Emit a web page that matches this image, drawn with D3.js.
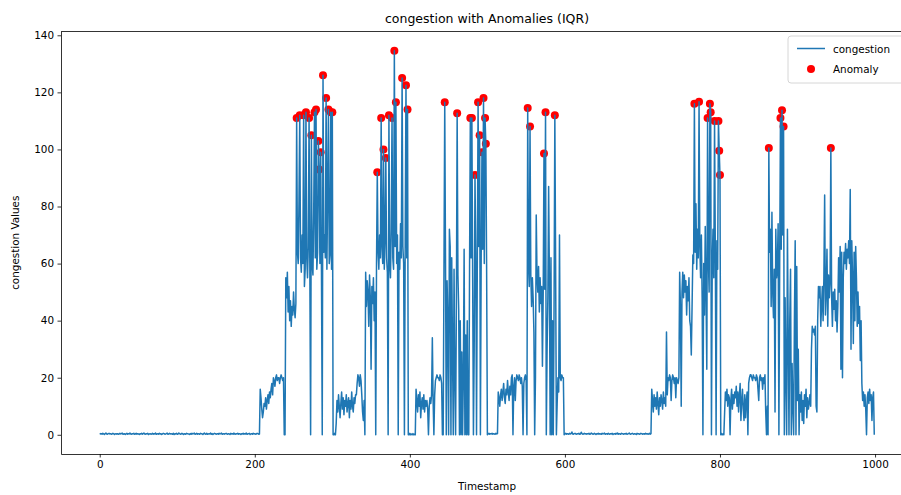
<!DOCTYPE html>
<html lang="en">
<head>
<meta charset="UTF-8">
<title>congestion with Anomalies (IQR)</title>
<style>
  body { margin: 0; background: #fff; }
  svg { display: block; font-family: "DejaVu Sans", sans-serif; }
</style>
</head>
<body>
<svg id="chart" width="901" height="495"></svg>
<script src="https://cdn.jsdelivr.net/npm/d3@7"></script>
<script>
// congestion values, one per timestamp, in order (0..999)
var quiet1 = [ // 0-206
  0.5,0.3,0.4,0.2,0.5,0.3,0.1,0.4,0.6,0.3,0.2,0.4,0.5,0.3,0.4,0.2,0.3,0.5,0.4,0.1,0.3,0.4,0.2,
  0.4,0.2,0.3,0.5,0.3,0.4,0.6,0.2,0.3,0.4,0.1,0.3,0.5,0.2,0.4,0.3,0.6,0.3,0.2,0.4,0.3,0.5,0.2,
  0.3,0.5,0.2,0.4,0.3,0.1,0.4,0.3,0.5,0.2,0.4,0.6,0.3,0.2,0.4,0.3,0.5,0.1,0.3,0.4,0.2,0.3,0.5,
  0.2,0.4,0.3,0.6,0.2,0.3,0.4,0.2,0.5,0.3,0.4,0.1,0.3,0.5,0.4,0.2,0.3,0.4,0.6,0.2,0.3,0.5,0.3,
  0.4,0.3,0.2,0.5,0.1,0.4,0.3,0.5,0.2,0.3,0.6,0.4,0.2,0.3,0.5,0.3,0.1,0.4,0.3,0.2,0.5,0.4,0.3,
  0.3,0.1,0.4,0.2,0.5,0.3,0.4,0.6,0.2,0.3,0.5,0.2,0.4,0.3,0.2,0.5,0.4,0.3,0.1,0.4,0.6,0.3,0.2,
  0.5,0.2,0.3,0.4,0.3,0.6,0.2,0.4,0.1,0.3,0.5,0.4,0.2,0.3,0.4,0.2,0.5,0.3,0.4,0.6,0.2,0.3,0.4,
  0.2,0.4,0.5,0.3,0.2,0.4,0.3,0.1,0.5,0.3,0.4,0.2,0.6,0.3,0.2,0.4,0.3,0.5,0.2,0.4,0.3,0.1,0.4,
  0.3,0.5,0.2,0.4,0.3,0.6,0.2,0.3,0.4,0.5,0.1,0.3,0.4,0.2,0.5,0.3,0.4,0.2,0.3,0.5,0.4,0.2,0.3
];
var burst1 = [ // 207-301
  16,
  13,9,6,8,11,10,13,9,12,14,11,15,13,16,18,14,
  20,19,17,20,21,19,20,20,18,20,21,20,19,20,
  0,0,
  55,48,57,43,52,40,47,38,45,42,50,44,41,46,
  111,64,60,82,112,62,57,70,60,112,52,58,113,62,55,66,111,58,0,105,60,56,78,113,
  62,114,58,64,103,93,60,99,57,0,126,64,70,62,118,58,86,114,60,63,113,58,113,0
];
var low1 = [ // 302-342
  0,0.5,0,4,
  12,8,14,10,6,11,15,9,13,7,12,10,14,8,11,13,6,12,9,15,10,8,13,11,14,
  14,18,21,20,17,21,19,14,8,5,12,0
];
var burst2 = [ // 343-398
  57,45,54,50,38,56,48,23,52,46,55,40,50,0,
  60,92,64,58,70,62,111,66,60,100,58,68,97,62,57,0,112,60,55,72,111,
  62,58,134.6,66,116.5,60,70,0,64,58,74,62,125,66,60,0,68,122.5,62,114,0
];
var low2 = [ // 399-443
  0,0.5,0,0.3,0,0.4,0,0.2,0,
  16,
  12,8,14,10,15,6,11,13,9,14,8,12,10,
  12,9,0,10,13,11,14,34,12,0,14,19,20,21,20,20,19,21,20,18,0,0
];
var burst3 = [ // 444-500
  58,116.5,60,
  0,54,40,0,72,66,0,62,30,0,58,20,0,
  45,112.7,56,44,0,40,0,29,0,20,65,0,35,0,40,0,
  0,58,111,62,111,55,0,30,91,64,0,60,116.5,66,105,0,62,99,65,118,60,111,102,59,0
];
var low3 = [ // 501-551
  0.3,0.5,0.2,0.4,0.3,0.5,0.2,0.4,0.3,0.2,0.5,0.3,0.4,
  15,
  13,10,14,16,12,15,18,13,11,16,14,19,15,12,17,14,20,21,
  0,17,20,12,19,21,20,19,21,20,18,20,17,0,18,20,21,19,0
];
var burst4 = [ // 552-599
  114.5,60,52,108,56,45,55,48,36,0,
  20,77,56,50,59,43,55,46,52,24,50,98.6,51,113,0,30,48,87,55,0,62,0,40,0,45,112,60,
  0,11,20,15,70,20,19,21,20,20,0
];
var quiet2 = [ // 600-711
  0.3,0.5,0.2,0.4,0.3,0.2,0.5,0.3,0.4,1.0,0.3,0.2,0.4,0.5,0.3,0.2,0.4,0.3,0.5,0.2,0.3,0.9,0.4,0.2,0.3,0.5,0.3,0.4,
  0.2,0.4,0.3,0.5,0.2,0.3,0.6,0.4,0.2,0.3,0.5,0.3,0.1,0.4,0.3,0.5,0.2,0.4,0.3,0.2,0.5,0.3,0.4,0.6,0.2,0.3,0.4,0.2,
  0.5,0.3,0.2,0.4,0.3,0.5,0.1,0.3,0.4,0.2,0.5,0.3,0.6,0.2,0.4,0.3,0.2,0.5,0.4,0.3,0.2,0.4,0.3,0.5,0.2,0.3,0.4,0.6,
  0.3,0.2,0.4,0.5,0.3,0.2,0.4,0.3,0.1,0.5,0.3,0.4,0.2,0.3,0.5,0.4,0.2,0.3,0.4,0.2,0.5,0.3,0.4,0.2,0.3,0.5,0.2,0.4
];
var burst5 = [ // 712-806
  16,
  12,8,14,10,13,9,15,11,7,13,10,14,12,9,15,11,13,10,
  36,14,20,19,21,20,12,19,21,20,18,20,13,20,19,18,20,
  57,45,10,50,57,48,56,50,54,42,52,47,55,40,38,28,45,63,
  60,116,64,81,58,72,62,116.7,66,55,70,48,0,60,42,73,50,23,111,62,
  50,116,113,0,60,72,55,110,64,0,68,58,110,99.5,91,
  0,0.5,0,0.3,0,8
];
var low5 = [ // 807-862
  15,12,16,10,14,13,
  0,
  12,16,9,14,11,15,
  13,17,10,15,8,14,18,5,12,16,9,5,14,6,12,15,0,
  18,20,21,21,20,19,21,20,20,19,21,20,16,12,20,21,19,20,16,20,18,21,8,0,10,0
];
var burst6 = [ // 863-999
  100.5,64,72,45,78,50,41,58,8,72,55,58,74,0,60,111,65,113.7,70,108,
  0,48,20,0,72,35,0,40,58,0,25,10,0,40,68,0,59,12,30,0,14,
  8,15,5,12,4,14,10,16,6,13,9,11,14,10,
  30,38,36,37,35,38,10,8,
  40,52,48,52,38,45,52,40,55,84,42,50,65,38,56,48,53,
  100.5,
  48,38,50,44,51,40,47,36,45,62,50,66,23,64,20,
  55,64,60,67,58,65,62,68,60,86,30,68,55,32,64,40,66,55,38,50,39,45,26,40,18,
  12,15,10,14,9,0,13,15,11,16,12,14,5,13,15,0
];

var congestion = [].concat(quiet1, burst1, low1, burst2, low2, burst3, low3, burst4, quiet2, burst5, low5, burst6);
var xTicks = [0, 200, 400, 600, 800, 1000];
var yTicks = [0, 20, 40, 60, 80, 100, 120, 140];
var upperFence = 89; // IQR upper bound: points above it are the anomalies

var data = congestion.map(function (v, i) { return { t: i, v: v }; });
var anomalies = data.filter(function (d) { return d.v > upperFence; });

var svg = d3.select("#chart");
var plotLeft = 61, plotRight = 913, plotTop = 31.5, plotBottom = 454;

// matplotlib style 5% margins around the data
var tMax = d3.max(data, function (d) { return d.t; });
var vMax = d3.max(data, function (d) { return d.v; });
var x = d3.scaleLinear().domain([-0.05 * tMax, 1.05 * tMax]).range([plotLeft, plotRight]);
var y = d3.scaleLinear().domain([-0.05 * vMax, 1.05 * vMax]).range([plotBottom, plotTop]);

// anomalies first, the line sits on top of them
svg.append("g")
  .selectAll("circle")
  .data(anomalies)
  .join("circle")
    .attr("cx", function (d) { return x(d.t); })
    .attr("cy", function (d) { return y(d.v); })
    .attr("r", 4)
    .attr("fill", "red");

var line = d3.line()
  .x(function (d) { return x(d.t); })
  .y(function (d) { return y(d.v); });

svg.append("path")
  .datum(data)
  .attr("d", line)
  .attr("fill", "none")
  .attr("stroke", "#1f77b4")
  .attr("stroke-width", 1.5)
  .attr("stroke-linejoin", "round");

// axes (tickSize first, it also resets the outer size)
var xAxis = svg.append("g")
  .attr("transform", "translate(0," + plotBottom + ")")
  .call(d3.axisBottom(x).tickValues(xTicks).tickFormat(d3.format("d"))
    .tickSize(3.5).tickSizeOuter(0).tickPadding(3.5));
var yAxis = svg.append("g")
  .attr("transform", "translate(" + plotLeft + ",0)")
  .call(d3.axisLeft(y).tickValues(yTicks).tickFormat(d3.format("d"))
    .tickSize(3.5).tickSizeOuter(0).tickPadding(3.5));

[xAxis, yAxis].forEach(function (g) {
  g.attr("font-family", "DejaVu Sans, sans-serif").attr("font-size", 10.4);
  g.selectAll("text").attr("fill", "#000");
  g.selectAll("line").attr("stroke", "#000").attr("stroke-width", 0.8);
  g.select(".domain").attr("stroke", "#000").attr("stroke-width", 0.8);
});

// top spine
svg.append("line")
  .attr("x1", plotLeft).attr("x2", plotRight)
  .attr("y1", plotTop).attr("y2", plotTop)
  .attr("stroke", "#000").attr("stroke-width", 0.8);

// titles
svg.append("text")
  .attr("x", (plotLeft + plotRight) / 2).attr("y", 23)
  .attr("text-anchor", "middle")
  .attr("font-size", 12.5)
  .text("congestion with Anomalies (IQR)");

svg.append("text")
  .attr("x", (plotLeft + plotRight) / 2).attr("y", 490)
  .attr("text-anchor", "middle")
  .attr("font-size", 10.4)
  .text("Timestamp");

svg.append("text")
  .attr("transform", "translate(19," + (plotTop + plotBottom) / 2 + ") rotate(-90)")
  .attr("text-anchor", "middle")
  .attr("font-size", 10.4)
  .text("congestion Values");

// legend
var legend = svg.append("g").attr("transform", "translate(788,36)");
legend.append("rect")
  .attr("width", 120).attr("height", 47)
  .attr("rx", 3)
  .attr("fill", "#fff").attr("fill-opacity", 0.8)
  .attr("stroke", "#cccccc").attr("stroke-width", 0.8);
legend.append("line")
  .attr("x1", 9).attr("x2", 37).attr("y1", 12.5).attr("y2", 12.5)
  .attr("stroke", "#1f77b4").attr("stroke-width", 1.5);
legend.append("text")
  .attr("x", 45).attr("y", 16.5).attr("font-size", 10.4)
  .text("congestion");
legend.append("circle")
  .attr("cx", 23).attr("cy", 33).attr("r", 4).attr("fill", "red");
legend.append("text")
  .attr("x", 45).attr("y", 37).attr("font-size", 10.4)
  .text("Anomaly");
</script>
</body>
</html>
